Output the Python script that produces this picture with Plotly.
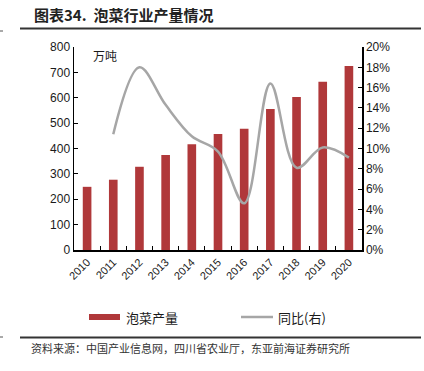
import plotly.graph_objects as go

years = ["2010", "2011", "2012", "2013", "2014", "2015", "2016", "2017", "2018", "2019", "2020"]
production = [249, 277, 328, 374, 417, 457, 478, 556, 603, 663, 725]
yoy = [None, 0.114, 0.180, 0.143, 0.112, 0.097, 0.046, 0.164, 0.081, 0.101, 0.091]
left_ticks = list(range(0, 801, 100))
right_ticks = [i / 100 for i in range(0, 21, 2)]

W, H = 424, 371
L, R, T, B = 74, 362, 47, 250
pw, ph = R - L, B - T

def px(x):
    return (x - L) / pw

def py(y):
    return (B - y) / ph

BAR = "#B0383A"
LINE = "#A6A6A6"
TXT = "#1a1a1a"
CJK = "Noto Sans CJK SC"

fig = go.Figure()
fig.add_trace(go.Bar(x=years, y=production, name="泡菜产量", marker_color=BAR,
                     marker_line_width=0, yaxis="y"))
fig.add_trace(go.Scatter(x=years, y=yoy, name="同比(右)", mode="lines",
                         line=dict(color=LINE, width=2.5, shape="spline", smoothing=1.0),
                         yaxis="y2", connectgaps=False))

fig.update_layout(
    template="none",
    width=W, height=H,
    margin=dict(l=L, r=W - R, t=T, b=H - B, pad=0, autoexpand=False),
    paper_bgcolor="white", plot_bgcolor="white",
    showlegend=False,
    bargap=0.67,
    font=dict(family="Liberation Sans, Arial", color=TXT, size=12),
    xaxis=dict(type="category", showline=True, linecolor="black", linewidth=1.5,
               ticks="inside", tickson="boundaries", ticklen=4, tickcolor="black",
               tickangle=-45, tickfont=dict(size=11), showgrid=False, automargin=False),
    yaxis=dict(range=[0, 800], tickvals=left_ticks, showline=True, linecolor="black",
               linewidth=1.5, ticks="inside", ticklen=4, tickcolor="black",
               showgrid=False, zeroline=False, tickfont=dict(size=12), automargin=False),
    yaxis2=dict(range=[0, 0.2], tickvals=right_ticks, tickformat=".0%", overlaying="y",
                side="right", showline=True, linecolor="black", linewidth=1.5,
                ticks="inside", ticklen=4, tickcolor="black", showgrid=False,
                zeroline=False, tickfont=dict(size=12), automargin=False),
)

shapes = []
ann = []
# title
ann.append(dict(x=px(32), y=py(15), xref="paper", yref="paper", xanchor="left", yanchor="middle",
                text="<b>图表34.  泡菜行业产量情况</b>", showarrow=False,
                font=dict(family=CJK, size=15, color="#222")))
shapes.append(dict(type="line", xref="paper", yref="paper", x0=px(20), x1=px(421),
                   y0=py(28.5), y1=py(28.5), line=dict(color="#333", width=1.8)))
shapes.append(dict(type="line", xref="paper", yref="paper", x0=px(0), x1=px(3),
                   y0=py(31), y1=py(31), line=dict(color="#555", width=1)))
# unit
ann.append(dict(x=px(91), y=py(56), xref="paper", yref="paper", xanchor="left", yanchor="middle",
                text="万吨", showarrow=False, font=dict(family=CJK, size=12, color=TXT)))
# legend
shapes.append(dict(type="rect", xref="paper", yref="paper", x0=px(89), x1=px(120),
                   y0=py(320), y1=py(314), fillcolor=BAR, line=dict(width=0)))
ann.append(dict(x=px(124), y=py(317), xref="paper", yref="paper", xanchor="left", yanchor="middle",
                text="泡菜产量", showarrow=False, font=dict(family=CJK, size=13, color=TXT)))
shapes.append(dict(type="line", xref="paper", yref="paper", x0=px(241), x1=px(273),
                   y0=py(317), y1=py(317), line=dict(color=LINE, width=2.5)))
ann.append(dict(x=px(276), y=py(317), xref="paper", yref="paper", xanchor="left", yanchor="middle",
                text="同比(右)", showarrow=False, font=dict(family=CJK, size=13, color=TXT)))
# source
shapes.append(dict(type="line", xref="paper", yref="paper", x0=px(20), x1=px(421),
                   y0=py(337.5), y1=py(337.5), line=dict(color="#333", width=1.8)))
shapes.append(dict(type="line", xref="paper", yref="paper", x0=px(0), x1=px(3),
                   y0=py(337), y1=py(337), line=dict(color="#555", width=1)))
ann.append(dict(x=px(29), y=py(348), xref="paper", yref="paper", xanchor="left", yanchor="middle",
                text="资料来源：中国产业信息网，四川省农业厅，东亚前海证券研究所", showarrow=False,
                font=dict(family=CJK, size=11, color="#333")))

fig.update_layout(shapes=shapes, annotations=ann)
fig.write_html("out.html", config={"displayModeBar": False, "staticPlot": True},
               post_script="document.body.style.margin='0';document.body.style.padding='0';")
